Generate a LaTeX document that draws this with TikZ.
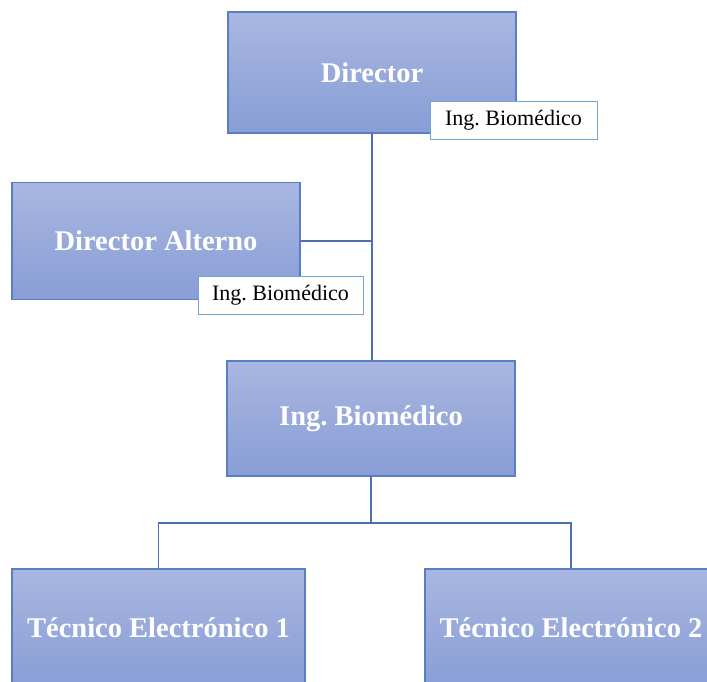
\documentclass[tikz,border=0pt]{standalone}
\usepackage{fontspec}
\setmainfont{Liberation Serif}
\frenchspacing
\definecolor{cajaarriba}{HTML}{A9B6E0}
\definecolor{cajaabajo}{HTML}{889ED6}
\definecolor{bordeazul}{HTML}{5B7DC6}
\definecolor{lineaazul}{HTML}{4C6FB3}
\definecolor{bordeclaro}{HTML}{6FA6DA}

\begin{document}
\begin{tikzpicture}[x=1pt,y=-1pt]
                \tikzset{cargo/.style={draw=bordeazul, line width=1.1pt, top color=cajaarriba, bottom color=cajaabajo,
                        text=white, font=\fontsize{28.5}{32}\selectfont\bfseries, minimum width=288pt, minimum height=118pt, inner sep=0pt},
                    etiqueta/.style={draw=bordeclaro, line width=1pt, fill=white, font=\fontsize{22}{25}\selectfont,
                        minimum height=38pt, inner sep=0pt},
                    enlace/.style={draw=lineaazul, line width=1.8pt}}
                \clip (0,0) rectangle (707,681);
                \fill[white] (0,0) rectangle (707,681);
                \node[cargo, minimum height=121pt] (dir) at (372,72.5) {Director};
                \node[etiqueta, minimum width=167pt] (etdir) at (513.5,120.5) {Ing. Biomédico};
                \node[cargo, minimum height=117pt] (alt) at (156,241) {Director Alterno};
                \node[etiqueta, minimum width=165pt] (etalt) at (280.5,295) {Ing. Biomédico};
                \node[cargo, minimum height=115pt] (ing) at (371,418.5) {Ing. Biomédico};
                \node[cargo, minimum width=293pt] (tec1) at (158.5,628) {Técnico Electrónico 1};
                \node[cargo, minimum width=292pt] (tec2) at (571,628) {Técnico Electrónico 2};
                \draw[enlace] (dir.south) -- (dir.south |- ing.north);
                \draw[enlace] (alt.east) -- (alt.east -| dir.south);
                \draw[enlace] (ing.south) -- ++(0,46.5) coordinate (bus);
                \draw[enlace] (tec1.north) |- (bus) -| (tec2.north);
            \end{tikzpicture}
\end{document}
